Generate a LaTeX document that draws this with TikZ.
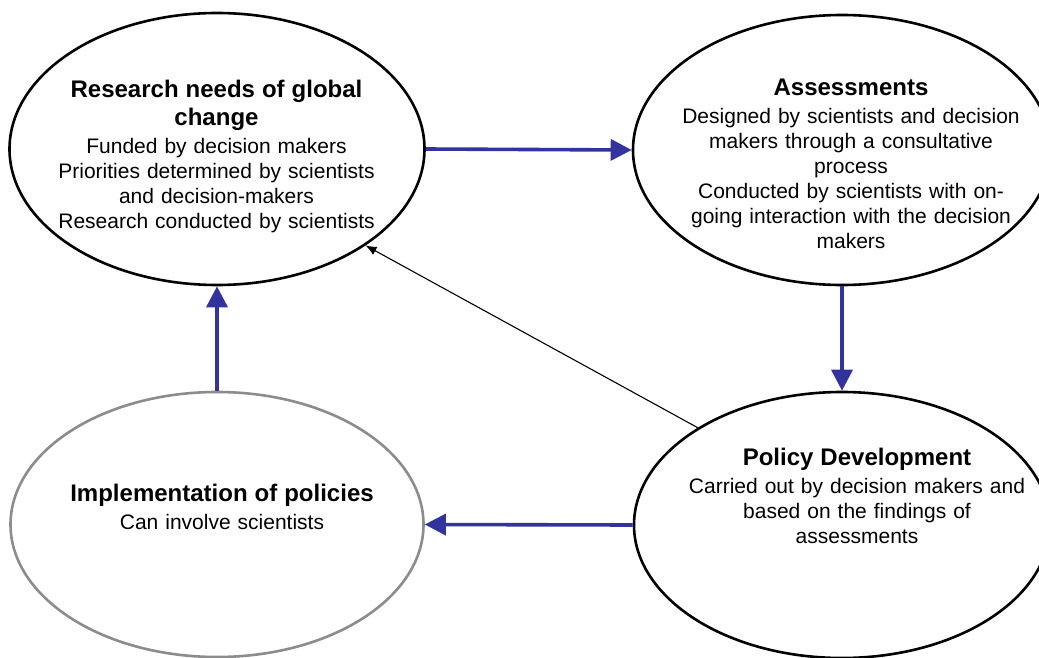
\documentclass[tikz,border=0pt]{standalone}
\usepackage{fontspec}
\setmainfont{Liberation Sans}
\usetikzlibrary{shapes.geometric,arrows.meta}
\definecolor{arrowblue}{RGB}{51,51,158}
\definecolor{ovalgray}{RGB}{140,140,140}
\newcommand{\ttlfont}{\fontsize{24}{28}\selectfont\bfseries}
\tikzset{
  oval/.style={ellipse, draw=black, line width=2.6pt, inner sep=0pt, fill=white},
  label text/.style={text width=420pt, align=center, inner sep=0pt, font=\fontsize{21}{25}\selectfont},
  flow/.style={draw=arrowblue, line width=3.6pt, -{Triangle[length=21pt,width=21pt]}},
  feedback/.style={draw=black, line width=1.1pt, -{Latex[length=11pt,width=9pt]}}
}
\begin{document}
\begin{tikzpicture}[x=1pt,y=-1pt]
\fill[white] (0,0) rectangle (1039,658);
\clip (0,0) rectangle (1039,658);
% ovals
\node[oval, minimum width=415pt, minimum height=272pt] (res) at (217,149) {};
\node[oval, minimum width=418pt, minimum height=270pt] (ass) at (842,150) {};
\node[oval, draw=ovalgray, minimum width=413pt, minimum height=265pt] (imp) at (217,524.5) {};
\node[oval, minimum width=416pt, minimum height=266pt] (pol) at (842,525) {};
% texts
\node[label text] (resT) at (216.5,156) {{\ttlfont Research needs of global\\ change\par}\vspace{3pt}
Funded by decision makers\\ Priorities determined by scientists\\ and decision-makers\\ Research conducted by scientists};
\node[label text] (assT) at (851,164) {{\ttlfont Assessments\par}\vspace{3pt}
Designed by scientists and decision\\ makers through a consultative\\ process\\ Conducted by scientists with on-\\ going interaction with the decision\\ makers};
\node[label text] (polT) at (857,495.5) {{\ttlfont Policy Development\par}\vspace{3pt}
Carried out by decision makers and\\ based on the findings of\\ assessments};
\node[label text] (impT) at (222,507) {{\ttlfont Implementation of policies\par}\vspace{3pt}
Can involve scientists};
% connectors
\draw[flow] (res.east) -- (ass.west);
\draw[flow] (ass.south) -- (pol.north);
\draw[flow] (pol.west) -- (imp.east);
\draw[flow] (imp.north) -- (res.south);
\draw[feedback] (pol.146.9) -- (res.-33.6);
\end{tikzpicture}
\end{document}
